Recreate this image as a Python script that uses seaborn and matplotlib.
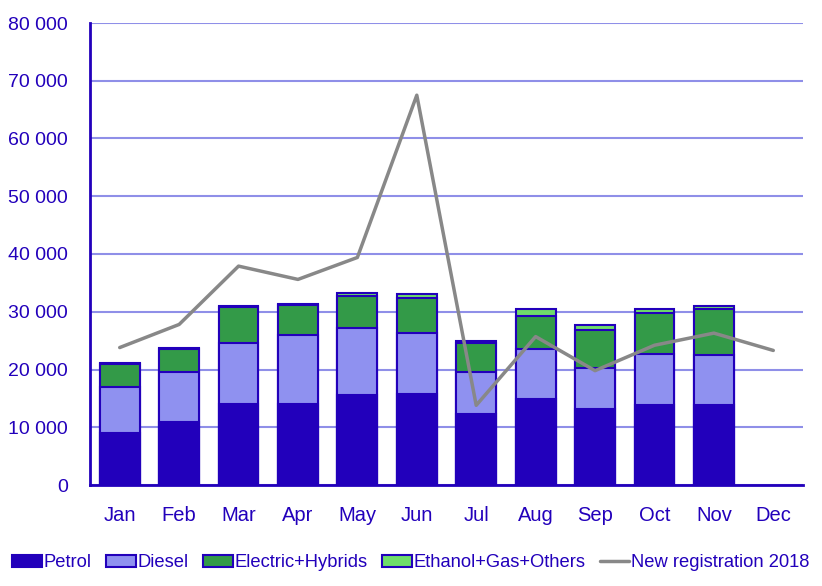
import numpy as np
import pandas as pd
import matplotlib
matplotlib.use("Agg")
import matplotlib.pyplot as plt
import seaborn as sns
from matplotlib.patches import Patch
from matplotlib.lines import Line2D
from matplotlib.ticker import FuncFormatter, FixedLocator

# === Data ===
months = ["Jan", "Feb", "Mar", "Apr", "May", "Jun", "Jul", "Aug", "Sep", "Oct", "Nov", "Dec"]
petrol = [9000, 10900, 14000, 14000, 15600, 15800, 12300, 14900, 13200, 13900, 13900, np.nan]
diesel = [8000, 8700, 10600, 11900, 11600, 10500, 7300, 8600, 7100, 8800, 8600, np.nan]
electric = [4000, 3900, 6200, 5300, 5500, 6100, 5000, 5800, 6500, 7100, 8000, np.nan]
ethanol = [200, 300, 200, 200, 500, 700, 400, 1200, 900, 700, 500, np.nan]
reg_2018 = [23800, 27800, 37900, 35600, 39400, 67500, 13800, 25700, 19800, 24200, 26300, 23300]

# === Colours ===
C_PETROL = "#2200bb"
C_DIESEL = "#8f91f0"
C_ELEC = "#339a48"
C_ETH = "#6fdd6a"
C_LINE = "#888888"
C_EDGE = "#2200bb"
C_TEXT = "#2200bb"
C_GRID = "#8f8fe8"

df = pd.DataFrame({
    "month": months,
    "petrol": petrol,
    "diesel": diesel,
    "electric": electric,
    "ethanol": ethanol,
    "reg": reg_2018,
})
df["cum_petrol"] = df["petrol"]
df["cum_diesel"] = df["cum_petrol"] + df["diesel"]
df["cum_elec"] = df["cum_diesel"] + df["electric"]
df["cum_eth"] = df["cum_elec"] + df["ethanol"]

sns.set_style("white")
plt.rcParams["font.family"] = ["Liberation Sans", "DejaVu Sans"]

fig = plt.figure(figsize=(8.22, 5.86), dpi=100)
ax = fig.add_axes([90 / 822, 101 / 586, 713 / 822, 462 / 586])

# stacked bars: draw cumulative totals from the top layer down
layers = [("cum_eth", C_ETH), ("cum_elec", C_ELEC), ("cum_diesel", C_DIESEL), ("cum_petrol", C_PETROL)]
for col, color in layers:
    sns.barplot(data=df, x="month", y=col, order=months, color=color, width=0.67,
                edgecolor=C_EDGE, linewidth=1.5, saturation=1, errorbar=None, ax=ax, zorder=3)

sns.lineplot(x=np.arange(len(months)), y=df["reg"], color=C_LINE, linewidth=2.5, ax=ax, zorder=4)

# axes styling
ax.set_xlim(-0.5, len(months) - 0.5)
ax.set_ylim(0, 80000)
ax.set_yticks(np.arange(0, 80001, 10000))
ax.yaxis.set_major_formatter(FuncFormatter(lambda v, p: f"{int(v):,}".replace(",", " ")))
ax.grid(axis="y", color=C_GRID, linewidth=1.5, zorder=0)
ax.set_axisbelow(True)
ax.set_xlabel("")
ax.set_ylabel("")

for s in ["top", "right"]:
    ax.spines[s].set_visible(False)
for s in ["left", "bottom"]:
    ax.spines[s].set_color(C_EDGE)
    ax.spines[s].set_linewidth(2)

ax.xaxis.set_minor_locator(FixedLocator(np.arange(-0.5, len(months), 1)))
ax.tick_params(axis="x", which="major", length=0, pad=15, labelsize=14.5, labelcolor=C_TEXT)
ax.tick_params(axis="x", which="minor", length=6, width=2, color=C_EDGE, direction="out")
ax.tick_params(axis="y", length=6, width=2, color=C_EDGE, labelsize=14, labelcolor=C_TEXT, pad=10)
ax.set_xticks(np.arange(len(months)))
ax.set_xticklabels(months)

# legend along the bottom
handles = [
    Patch(facecolor=C_PETROL, edgecolor=C_EDGE, linewidth=1.5, label="Petrol"),
    Patch(facecolor=C_DIESEL, edgecolor=C_EDGE, linewidth=1.5, label="Diesel"),
    Patch(facecolor=C_ELEC, edgecolor=C_EDGE, linewidth=1.5, label="Electric+Hybrids"),
    Patch(facecolor=C_ETH, edgecolor=C_EDGE, linewidth=1.5, label="Ethanol+Gas+Others"),
    Line2D([0], [0], color=C_LINE, linewidth=2.5, label="New registration 2018"),
]
leg = fig.legend(handles=handles, loc="lower center", bbox_to_anchor=(0.5, 0.0), ncol=5,
                 frameon=False, fontsize=13.2, handlelength=1.6, handletextpad=0.1,
                 columnspacing=0.8, borderaxespad=0.4)
for t in leg.get_texts():
    t.set_color(C_TEXT)

fig.savefig("out.png", dpi=100)
